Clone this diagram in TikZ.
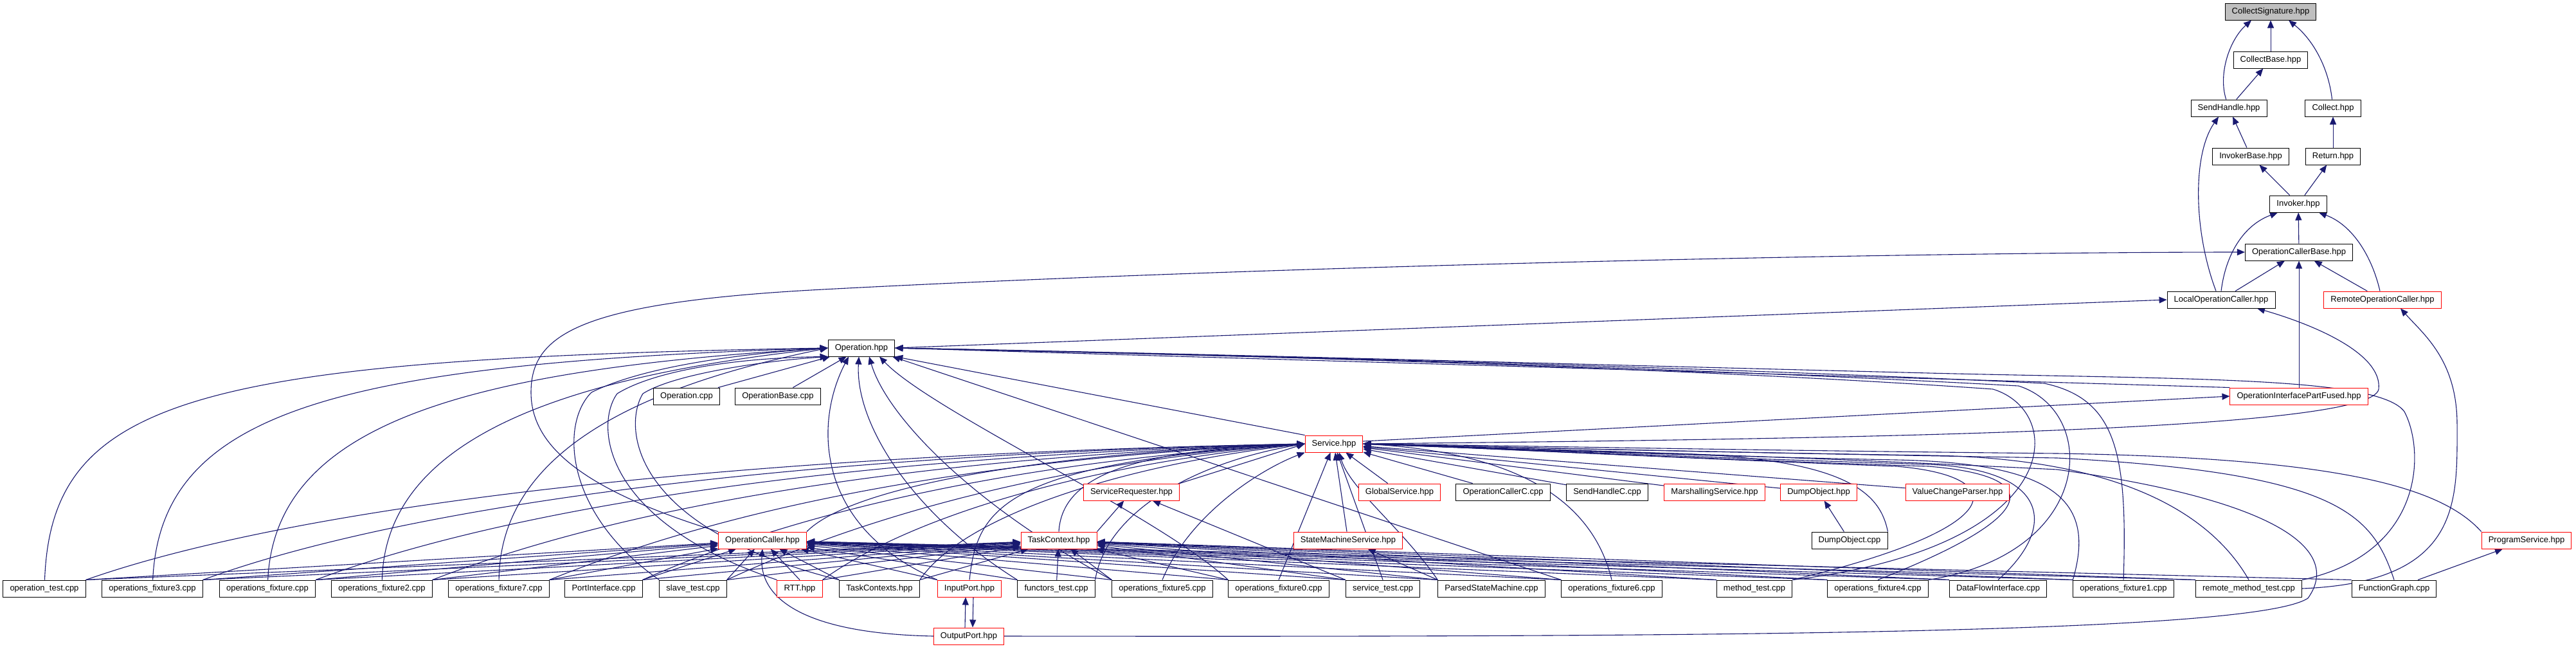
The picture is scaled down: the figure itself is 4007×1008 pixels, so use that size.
\documentclass[tikz,border=0pt]{standalone}
\usepackage{fontspec}
\setmainfont{Liberation Sans}
\usetikzlibrary{arrows.meta, backgrounds}
\definecolor{edgeblue}{RGB}{25,25,112}
\definecolor{truncred}{RGB}{255,0,0}
\definecolor{focusgrey}{RGB}{191,191,191}
\tikzset{
    header/.style={draw=black, fill=white, line width=0.5pt, inner xsep=5.3pt, inner ysep=0pt, minimum height=13pt, font=\fontsize{6.5}{7}\selectfont},
    trunc/.style={header, draw=truncred},
    focus/.style={header, fill=focusgrey},
    incl/.style={draw=edgeblue, line width=0.55pt, -{Triangle[length=6pt,width=5pt]}}
}

\begin{document}
\begin{tikzpicture}[x=0.5pt, y=-0.5pt]
    \useasboundingbox (0,0) rectangle (4007,1008);

    % chain of headers on the right
    \node[focus] (csig) at (3532,18) {CollectSignature.hpp};
    \node[header] (cbase) at (3532,93) {CollectBase.hpp};
    \node[header] (sendh) at (3467,168) {SendHandle.hpp};
    \node[header] (collect) at (3629,168) {Collect.hpp};
    \node[header] (invbase) at (3501,243) {InvokerBase.hpp};
    \node[header] (ret) at (3629,243) {Return.hpp};
    \node[header] (invoker) at (3575,317) {Invoker.hpp};
    \node[header] (ocbase) at (3576,392) {OperationCallerBase.hpp};
    \node[header] (localoc) at (3455,466) {LocalOperationCaller.hpp};
    \node[trunc] (remoteoc) at (3706,466) {RemoteOperationCaller.hpp};

    % middle rows
    \node[header] (operation) at (1340,541) {Operation.hpp};
    \node[header] (opcpp) at (1068,616) {Operation.cpp};
    \node[header] (opbase) at (1210,616) {OperationBase.cpp};
    \node[trunc] (oipf) at (3576,616) {OperationInterfacePartFused.hpp};
    \node[trunc] (service) at (2075,690) {Service.hpp};
    \node[trunc] (sreq) at (1760,765) {ServiceRequester.hpp};
    \node[trunc] (globsvc) at (2177,765) {GlobalService.hpp};
    \node[header] (occ) at (2338,765) {OperationCallerC.cpp};
    \node[header] (shc) at (2500,765) {SendHandleC.cpp};
    \node[trunc] (marsh) at (2667,765) {MarshallingService.hpp};
    \node[trunc] (dumphpp) at (2829,765) {DumpObject.hpp};
    \node[trunc] (vcp) at (3045,765) {ValueChangeParser.hpp};
    \node[trunc] (opcaller) at (1186,840) {OperationCaller.hpp};
    \node[trunc] (tc) at (1647,840) {TaskContext.hpp};
    \node[trunc] (sms) at (2097,840) {StateMachineService.hpp};
    \node[header] (dumpcpp) at (2877,840) {DumpObject.cpp};
    \node[trunc] (progsvc) at (3930,840) {ProgramService.hpp};

    % bottom row
    \node[header] (optest) at (69,915) {operation\_test.cpp};
    \node[header] (fix3) at (237,915) {operations\_fixture3.cpp};
    \node[header] (fix) at (416,915) {operations\_fixture.cpp};
    \node[header] (fix2) at (594,915) {operations\_fixture2.cpp};
    \node[header] (fix7) at (776,915) {operations\_fixture7.cpp};
    \node[header] (portif) at (939,915) {PortInterface.cpp};
    \node[header] (slave) at (1078,915) {slave\_test.cpp};
    \node[trunc] (rtt) at (1244,915) {RTT.hpp};
    \node[header] (tcs) at (1368,915) {TaskContexts.hpp};
    \node[trunc] (inport) at (1508,915) {InputPort.hpp};
    \node[header] (functors) at (1643,915) {functors\_test.cpp};
    \node[header] (fix5) at (1808,915) {operations\_fixture5.cpp};
    \node[header] (fix0) at (1989,915) {operations\_fixture0.cpp};
    \node[header] (svctest) at (2151,915) {service\_test.cpp};
    \node[header] (psm) at (2320,915) {ParsedStateMachine.cpp};
    \node[header] (fix6) at (2507,915) {operations\_fixture6.cpp};
    \node[header] (method) at (2729,915) {method\_test.cpp};
    \node[header] (fix4) at (2921,915) {operations\_fixture4.cpp};
    \node[header] (dfi) at (3108,915) {DataFlowInterface.cpp};
    \node[header] (fix1) at (3303,915) {operations\_fixture1.cpp};
    \node[header] (remtest) at (3498,915) {remote\_method\_test.cpp};
    \node[header] (fgraph) at (3724,915) {FunctionGraph.cpp};
    \node[trunc] (outport) at (1507,989) {OutputPort.hpp};

    \begin{pgfonlayer}{background}
    \fill[white] (0,0) rectangle (4007,1008);

    % top of the graph
    \draw[incl] (cbase) -- (csig);
    \draw[incl] (sendh) .. controls (3450,115) and (3468,62) .. ([xshift=-15pt]csig.south);
    \draw[incl] (collect) .. controls (3622,105) and (3598,62) .. ([xshift=14pt]csig.south);
    \draw[incl] (sendh) -- (cbase);
    \draw[incl] (invbase) -- (sendh);
    \draw[incl] ([xshift=-4pt]localoc.north) .. controls (3412,360) and (3410,240) .. ([xshift=-8pt]sendh.south);
    \draw[incl] (ret) -- (collect);
    \draw[incl] (invoker) -- (invbase);
    \draw[incl] (invoker) -- (ret);
    \draw[incl] (ocbase) -- (invoker);
    \draw[incl] (localoc.north) .. controls (3462,395) and (3490,350) .. ([xshift=-16pt]invoker.south);
    \draw[incl] ([xshift=-2pt]remoteoc.north) .. controls (3690,400) and (3660,350) .. ([xshift=16pt]invoker.south);
    \draw[incl] (localoc) -- (ocbase);
    \draw[incl] (remoteoc) -- (ocbase);
    \draw[incl] (oipf) -- (ocbase);
    \draw[incl] (opcaller.north west) .. controls (900,760) and (826,690) .. (826,610) .. controls (826,520) and (900,470) .. (1280,450) .. controls (2000,412) and (3000,392) .. (ocbase.west);
    \draw[incl] (operation.east) -- (localoc.west);
    \draw[incl] (service.east) .. controls (2900,682) and (3690,670) .. (3700,605) .. controls (3706,550) and (3600,505) .. ([xshift=28pt]localoc.south);
    \draw[incl] ([yshift=2pt]service.east) -- (oipf.west);
    \draw[incl] (oipf.north west) -- (operation.east);
    \draw[incl] (remtest.east) .. controls (3830,905) and (3822,780) .. (3822,660) .. controls (3822,560) and (3770,520) .. ([xshift=14pt]remoteoc.south);
    \draw[incl] (remtest.north east) .. controls (3772,860) and (3772,700) .. (3740,640) .. controls (3700,585) and (3400,590) .. (3000,580) .. controls (2400,565) and (1800,548) .. (operation.east);

    % into Operation.hpp
    \draw[incl] (optest) .. controls (80,620) and (300,558) .. (operation.west);
    \draw[incl] (fix3) .. controls (250,640) and (520,565) .. (operation.west);
    \draw[incl] (fix) .. controls (428,660) and (720,575) .. (operation.west);
    \draw[incl] (fix2) .. controls (600,680) and (880,585) .. (operation.west);
    \draw[incl] (fix7) .. controls (778,700) and (1000,600) .. (operation.west);
    \draw[incl] (slave.north west) .. controls (880,800) and (870,660) .. (920,610) .. controls (1000,570) and (1150,550) .. (operation.west);
    \draw[incl] (rtt.north west) .. controls (935,810) and (925,660) .. (960,612) .. controls (1020,575) and (1150,556) .. (operation.south west);
    \draw[incl] (tcs.north west) .. controls (975,820) and (970,660) .. (1000,612) .. controls (1050,580) and (1200,560) .. (operation.south west);
    \draw[incl] (inport.north west) .. controls (1270,820) and (1265,660) .. ([xshift=-10pt]operation.south);
    \draw[incl] (functors.north west) .. controls (1420,800) and (1330,660) .. ([xshift=-2pt]operation.south);
    \draw[incl] (fix5.north west) .. controls (1520,790) and (1380,650) .. ([xshift=6pt]operation.south);
    \draw[incl] (fix0.north west) .. controls (1800,800) and (1450,640) .. ([xshift=14pt]operation.south);
    \draw[incl] (opcpp) -- (operation);
    \draw[incl] (opbase) -- (operation);
    \draw[incl] (fix6.north west) -- ([xshift=-2pt]operation.south east);
    \draw[incl] (service.north west) -- (operation.south east);
    \draw[incl] (method.north east) .. controls (3215,850) and (3215,640) .. (3100,605) .. controls (2600,570) and (1900,552) .. (operation.east);
    \draw[incl] (fix4.north east) .. controls (3260,860) and (3265,640) .. (3140,600) .. controls (2600,570) and (1900,552) .. (operation.east);
    \draw[incl] (fix1.north) .. controls (3310,700) and (3290,620) .. (3180,596) .. controls (2600,568) and (1900,552) .. (operation.east);

    % into Service.hpp
    \draw[incl] (optest.north east) .. controls (450,790) and (1100,708) .. (service.west);
    \draw[incl] (fix3.north east) .. controls (620,790) and (1200,708) .. (service.west);
    \draw[incl] (fix.north east) .. controls (790,790) and (1300,710) .. (service.west);
    \draw[incl] (fix2.north east) .. controls (960,790) and (1400,712) .. (service.west);
    \draw[incl] (fix7.north east) .. controls (1130,790) and (1500,714) .. (service.west);
    \draw[incl] (portif.north east) .. controls (1250,790) and (1600,716) .. (service.west);
    \draw[incl] (slave.north east) .. controls (1350,800) and (1650,718) .. (service.west);
    \draw[incl] (rtt.north east) .. controls (1420,800) and (1700,720) .. (service.west);
    \draw[incl] (tcs.north east) .. controls (1500,800) and (1750,722) .. (service.west);
    \draw[incl] (inport.north) .. controls (1520,790) and (1560,720) .. (service.west);
    \draw[incl] (opcaller.north east) .. controls (1320,760) and (1600,705) .. (service.west);
    \draw[incl] (tc.north) .. controls (1652,740) and (1760,700) .. (service.west);
    \draw[incl] (functors.north east) .. controls (1720,800) and (1850,720) .. (service.west);
    \draw[incl] (sreq.north east) -- (service.west);
    \draw[incl] (fix5.north) .. controls (1850,800) and (1960,730) .. (service.south west);
    \draw[incl] (fix0.north) -- (service);
    \draw[incl] (svctest.north) -- (service);
    \draw[incl] (sms) -- (service);
    \draw[incl] (psm.north west) .. controls (2180,820) and (2100,760) .. ([xshift=4pt]service.south);
    \draw[incl] (globsvc) -- (service);
    \draw[incl] (occ) -- (service);
    \draw[incl] (shc) -- (service);
    \draw[incl] (marsh) -- (service);
    \draw[incl] (dumphpp) -- (service);
    \draw[incl] (vcp) -- (service);
    \draw[incl] (dumpcpp.north east) .. controls (2925,770) and (2880,712) .. (2600,705) .. controls (2400,700) and (2200,694) .. (service.east);
    \draw[incl] (fix6.north) .. controls (2480,790) and (2380,705) .. (service.east);
    \draw[incl] (method.north east) .. controls (3130,820) and (3130,740) .. (2950,725) .. controls (2600,712) and (2300,696) .. (service.east);
    \draw[incl] (fix4.north) .. controls (3180,800) and (3180,740) .. (3000,725) .. controls (2600,712) and (2300,696) .. (service.east);
    \draw[incl] (dfi.north) .. controls (3200,820) and (3190,730) .. (3000,722) .. controls (2600,710) and (2300,696) .. (service.east);
    \draw[incl] (fix1.north west) .. controls (3260,780) and (3200,720) .. (2950,715) .. controls (2600,708) and (2300,696) .. (service.east);
    \draw[incl] (remtest.north) .. controls (3440,800) and (3300,712) .. (3000,708) .. controls (2600,702) and (2300,694) .. (service.east);
    \draw[incl] (fgraph.north) .. controls (3690,800) and (3640,735) .. (3200,712) .. controls (2700,704) and (2300,694) .. (service.east);
    \draw[incl] (progsvc.north west) .. controls (3800,760) and (3650,712) .. (3200,705) .. controls (2700,700) and (2300,692) .. (service.east);
    \draw[incl] (outport.east) .. controls (2500,990) and (3500,990) .. (3590,930) .. controls (3640,860) and (3560,780) .. (3200,730) .. controls (2700,705) and (2300,696) .. (service.east);

    % into OperationCaller.hpp
    \draw[incl] (optest.north east) -- (opcaller);
    \draw[incl] (fix3.north east) -- (opcaller);
    \draw[incl] (fix.north east) -- (opcaller);
    \draw[incl] (fix2.north east) -- (opcaller);
    \draw[incl] (fix7.north east) -- (opcaller);
    \draw[incl] (portif.north east) -- (opcaller);
    \draw[incl] (slave.north east) -- (opcaller);
    \draw[incl] (rtt.north) -- (opcaller);
    \draw[incl] (tcs.north west) -- (opcaller);
    \draw[incl] (inport.north west) -- (opcaller);
    \draw[incl] (functors.north west) -- (opcaller);
    \draw[incl] (fix5.north west) -- (opcaller);
    \draw[incl] (fix0.north west) -- (opcaller);
    \draw[incl] (svctest.north west) -- (opcaller);
    \draw[incl] (psm.north west) -- (opcaller);
    \draw[incl] (fix6.north west) -- (opcaller);
    \draw[incl] (method.north west) -- (opcaller);
    \draw[incl] (fix4.north west) -- (opcaller);
    \draw[incl] (dfi.north west) -- (opcaller);
    \draw[incl] (fix1.north west) -- (opcaller);
    \draw[incl] (remtest.north west) -- (opcaller);
    \draw[incl] (fgraph.north west) -- (opcaller);
    \draw[incl] (outport.west) .. controls (1250,985) and (1180,930) .. (opcaller.south);

    % into TaskContext.hpp
    \draw[incl] (optest.north east) -- (tc);
    \draw[incl] (fix3.north east) -- (tc);
    \draw[incl] (fix.north east) -- (tc);
    \draw[incl] (fix2.north east) -- (tc);
    \draw[incl] (fix7.north east) -- (tc);
    \draw[incl] (portif.north east) -- (tc);
    \draw[incl] (slave.north east) -- (tc);
    \draw[incl] (rtt.north east) -- (tc);
    \draw[incl] (tcs.north east) -- (tc);
    \draw[incl] (functors) -- (tc);
    \draw[incl] (fix5.north west) -- (tc);
    \draw[incl] (fix0.north west) -- (tc);
    \draw[incl] (svctest.north west) -- (tc);
    \draw[incl] (psm.north west) -- (tc);
    \draw[incl] (fix6.north west) -- (tc);
    \draw[incl] (method.north west) -- (tc);
    \draw[incl] (fix4.north west) -- (tc);
    \draw[incl] (dfi.north west) -- (tc);
    \draw[incl] (fix1.north west) -- (tc);
    \draw[incl] (remtest.north west) -- (tc);

    % the rest
    \draw[incl] (tc.north east) -- (sreq);
    \draw[incl] (svctest.north west) -- (sreq);
    \draw[incl] (psm.north west) -- (sms);
    \draw[incl] (dumpcpp) -- (dumphpp);
    \draw[incl] (fgraph) -- (progsvc);
    \draw[incl] ([xshift=-3pt]outport.north) -- ([xshift=-3pt]inport.south);
    \draw[incl] ([xshift=3pt]inport.south) -- ([xshift=3pt]outport.north);
    \end{pgfonlayer}
\end{tikzpicture}
\end{document}
